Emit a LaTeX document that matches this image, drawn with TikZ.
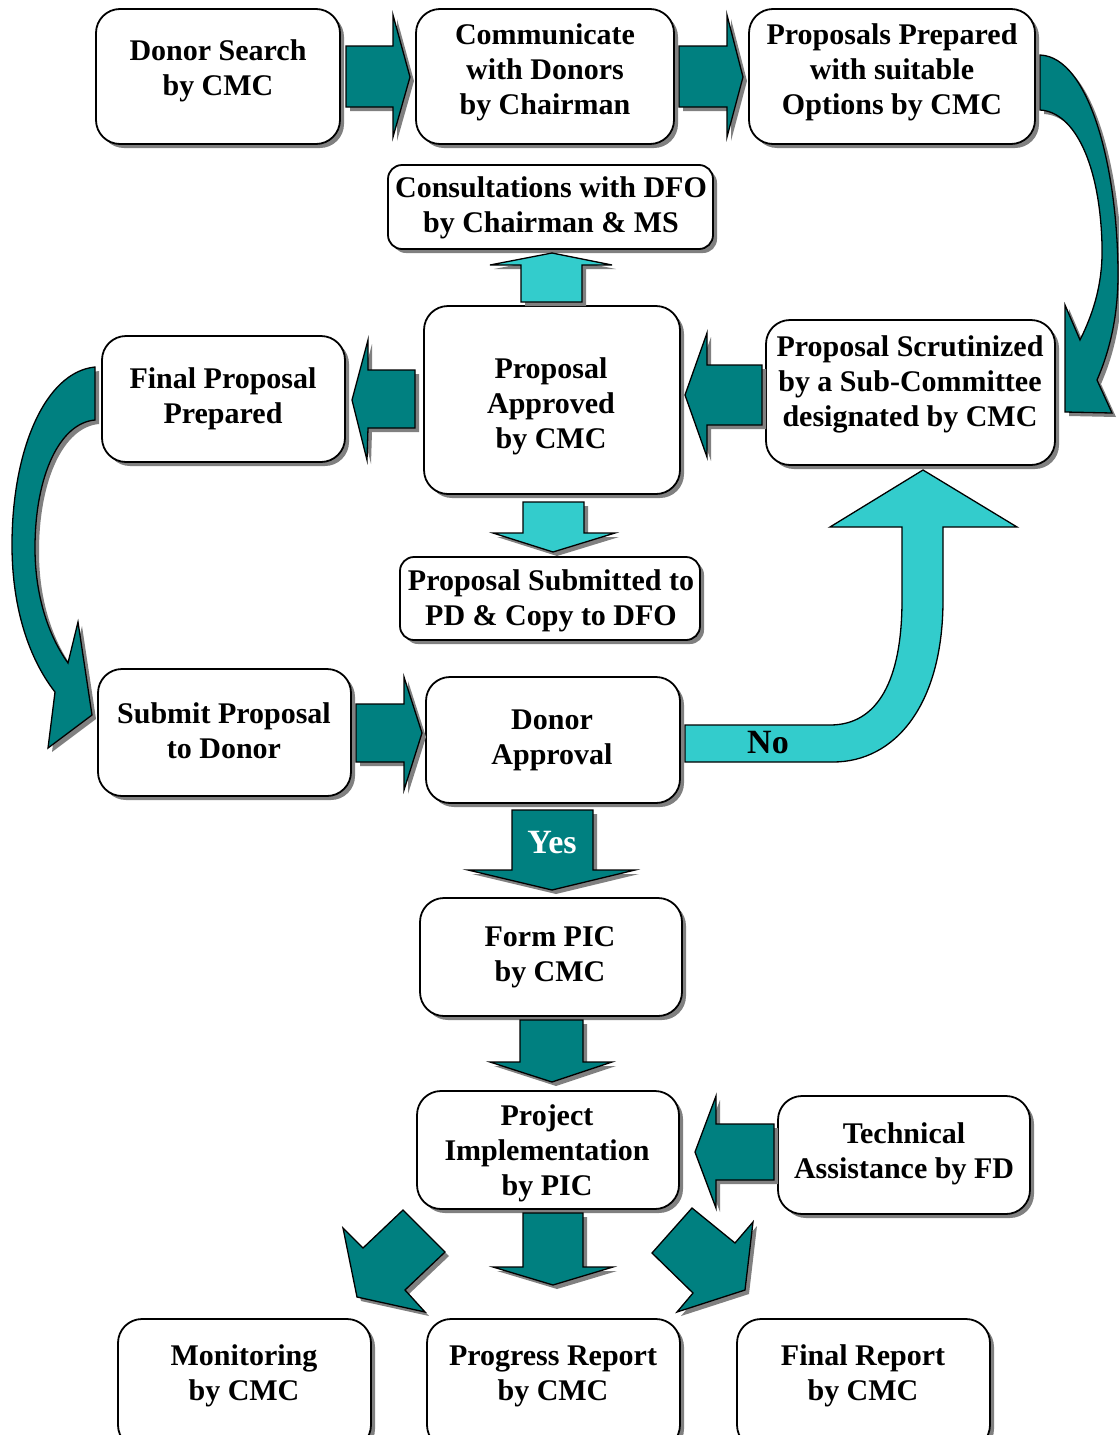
\documentclass[tikz,border=0pt]{standalone}
\usepackage{fontspec}
\setmainfont{Liberation Serif}
\usetikzlibrary{shadows}
\definecolor{tealc}{HTML}{008080}
\definecolor{cyanc}{HTML}{33CCCC}
\definecolor{shadowc}{HTML}{808080}
\tikzset{
  shad/.style={drop shadow={shadow xshift=4pt, shadow yshift=-4pt, fill=shadowc, opacity=1}},
  box/.style={draw=black, line width=1.8pt, fill=white, rounded corners=24pt, shad, inner sep=0pt},
  sbox/.style={box, rounded corners=14pt},
  txt/.style={font=\fontsize{30}{35}\selectfont\bfseries, align=center, inner sep=0pt},
  bigtxt/.style={font=\fontsize{34}{40}\selectfont\bfseries, inner sep=0pt},
  tarrow/.style={fill=tealc, draw=black, line width=1.3pt, line join=miter, shad},
  carrow/.style={fill=cyanc, draw=black, line width=1.3pt, line join=miter},
}
\begin{document}
\begin{tikzpicture}[x=1pt,y=-1pt]
\useasboundingbox (0,0) rectangle (1119,1435);
\clip (0,0) rectangle (1119,1435);
% boxes
\node[box, minimum width=244pt, minimum height=135pt] (n1) at (218,76.5) {};
\node[box, minimum width=258pt, minimum height=135pt] (n2) at (545,76.5) {};
\node[box, minimum width=286pt, minimum height=135pt] (n3) at (892,76.5) {};
\node[sbox, minimum width=325pt, minimum height=84pt] (n4) at (550.5,207) {};
\node[box, minimum width=256pt, minimum height=188pt] (n5) at (552,400) {};
\node[box, minimum width=243pt, minimum height=126pt] (n6) at (223.5,399) {};
\node[box, minimum width=289pt, minimum height=145pt] (n7) at (910.5,392.5) {};
\node[sbox, minimum width=300pt, minimum height=83pt] (n8) at (550,598.5) {};
\node[box, minimum width=253pt, minimum height=127pt] (n9) at (224.5,732.5) {};
\node[box, minimum width=254pt, minimum height=126pt] (n10) at (553,740) {};
\node[box, minimum width=262pt, minimum height=118pt] (n11) at (551,957) {};
\node[box, minimum width=262pt, minimum height=118pt] (n12) at (548,1150) {};
\node[box, minimum width=252pt, minimum height=118pt] (n13) at (904,1155) {};
\node[box, minimum width=253pt, minimum height=130pt] (n14) at (244.5,1384) {};
\node[box, minimum width=253pt, minimum height=130pt] (n15) at (553.5,1384) {};
\node[box, minimum width=253pt, minimum height=130pt] (n16) at (863.5,1384) {};
% texts
\node[txt] (t1) at (218,71) {Donor Search\\by CMC};
\node[txt] (t2) at (545,72) {Communicate\\with Donors\\by Chairman};
\node[txt] (t3) at (892,72) {Proposals Prepared\\with suitable\\Options by CMC};
\node[txt] (t4) at (551,208) {Consultations with DFO\\by Chairman \& MS};
\node[txt] (t5) at (551,406) {Proposal\\Approved\\by CMC};
\node[txt] (t6) at (223,399) {Final Proposal\\Prepared};
\node[txt] (t7) at (910,384) {Proposal Scrutinized\\by a Sub-Committee\\designated by CMC};
\node[txt] (t8) at (551,601) {Proposal Submitted to\\PD \& Copy to DFO};
\node[txt] (t9) at (224,731) {Submit Proposal\\to Donor};
\node[txt] (t10) at (552,740) {Donor\\Approval};
\node[txt] (t11) at (550,957) {Form PIC\\by CMC};
\node[txt] (t12) at (547,1153) {Project\\Implementation\\by PIC};
\node[txt] (t13) at (904,1154) {Technical\\Assistance by FD};
\node[txt] (t14) at (244,1376) {Monitoring\\by CMC};
\node[txt] (t15) at (553,1376) {Progress Report\\by CMC};
\node[txt] (t16) at (863,1376) {Final Report\\by CMC};
% straight block arrows
\draw[tarrow] (346,46) -- (393,46) -- (393,15) -- (410,77) -- (393,137) -- (393,107) -- (346,107) -- cycle;
\draw[tarrow] (679,46) -- (727,46) -- (727,15) -- (743,77) -- (727,137) -- (727,107) -- (679,107) -- cycle;
\draw[carrow, shad] (521,302) -- (521,265) -- (490,265) -- (552,253) -- (612,265) -- (582,265) -- (582,302) -- cycle;
\draw[carrow, shad] (523,502) -- (584,502) -- (584,533) -- (615,533) -- (553,552) -- (493,533) -- (523,533) -- cycle;
\draw[tarrow] (762,365) -- (707,365) -- (707,333) -- (685,395) -- (707,457) -- (707,425) -- (762,425) -- cycle;
\draw[tarrow] (415,370) -- (368,370) -- (368,340) -- (352,400) -- (367,460) -- (368,428) -- (415,428) -- cycle;
\draw[tarrow] (356,704) -- (404,704) -- (404,677) -- (422,733) -- (404,790) -- (404,762) -- (356,762) -- cycle;
\draw[tarrow] (512,810) -- (593,810) -- (593,870) -- (635,870) -- (552,890) -- (468,870) -- (512,870) -- cycle;
\draw[tarrow] (520,1020) -- (583,1020) -- (583,1062) -- (612,1062) -- (552,1082) -- (490,1062) -- (520,1062) -- cycle;
\draw[tarrow] (774,1124) -- (716,1124) -- (716,1096) -- (695,1152) -- (716,1208) -- (716,1180) -- (774,1180) -- cycle;
\draw[tarrow] (523,1213) -- (583,1213) -- (583,1267) -- (613,1267) -- (553,1285) -- (493,1267) -- (523,1267) -- cycle;
\draw[tarrow] (403,1210) -- (445,1252) -- (405,1290) -- (425,1312) -- (357,1297) -- (343,1228) -- (363,1248) -- cycle;
\draw[tarrow] (692,1208) -- (652,1253) -- (693,1293) -- (677,1312) -- (745,1290) -- (753,1222) -- (735,1243) -- cycle;
% curved arrows
\draw[tarrow] (1040,55) .. controls (1090,57) and (1118,170) .. (1118,275)
  .. controls (1118,320) and (1108,355) .. (1097,380) -- (1112,413) -- (1065,412) -- (1065,305) -- (1080,340)
  .. controls (1095,310) and (1103,280) .. (1102,245) .. controls (1100,165) and (1075,112) .. (1040,110) -- cycle;
\draw[tarrow] (95,367) .. controls (45,372) and (12,450) .. (12,545) .. controls (12,610) and (30,660) .. (55,692)
  -- (48,748) -- (92,715) -- (78,622) -- (68,663)
  .. controls (48,635) and (35,595) .. (35,548) .. controls (35,475) and (60,423) .. (95,420) -- cycle;
\draw[carrow] (685,725) -- (830,725) .. controls (878,725) and (902,680) .. (902,600) -- (902,527) -- (830,527)
  -- (923,470) -- (1017,527) -- (943,527) -- (943,600) .. controls (943,705) and (895,762) .. (833,762) -- (685,762) -- cycle;
% labels
\node[bigtxt, text=white] (yes) at (552,843) {Yes};
\node[bigtxt] (no) at (768,743) {No};
\end{tikzpicture}
\end{document}
